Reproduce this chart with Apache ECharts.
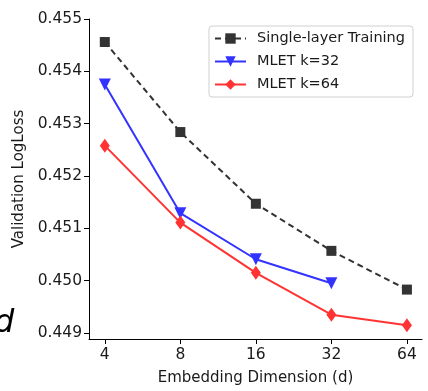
<!DOCTYPE html>
<html>
<head>
<meta charset="utf-8">
<script src="https://cdn.jsdelivr.net/npm/echarts@6/dist/echarts.min.js"></script>
<style>
  html, body { margin: 0; padding: 0; background: #fff; }
  #chart { width: 428px; height: 391px; }
</style>
</head>
<body>
<div id="chart"></div>
<script>
// embedding dimensions (x) and validation logloss per method
var dims = [4, 8, 16, 32, 64];
var singleLayer = [0.45456, 0.45284, 0.45147, 0.45057, 0.44983];
var mletK32 = [0.45375, 0.45129, 0.45041, 0.44995];
var mletK64 = [0.45258, 0.45111, 0.45015, 0.44935, 0.44915];
var yTicks = [0.449, 0.450, 0.451, 0.452, 0.453, 0.454, 0.455];

var font = 'DejaVu Sans';

function pairs(xs, ys) {
  return ys.map(function (y, i) { return [xs[i], y]; });
}

var option = {
  animation: false,
  textStyle: { fontFamily: font },
  grid: { left: 89, right: 6, top: 19, bottom: 49 },
  legend: {
    right: 15, top: 26,
    orient: 'vertical',
    itemWidth: 31, itemHeight: 13, itemGap: 8,
    padding: [5, 8, 5, 5],
    borderColor: '#d0d0d0', borderWidth: 1, borderRadius: 3,
    backgroundColor: '#fff',
    textStyle: { fontFamily: font, fontSize: 14.5, color: '#1a1a1a', padding: [0, 0, 0, 6] },
    data: ['Single-layer Training', 'MLET k=32', 'MLET k=64']
  },
  xAxis: {
    type: 'log', logBase: 2,
    min: 3.46, max: 73.5,
    name: 'Embedding Dimension (d)',
    nameLocation: 'middle', nameGap: 32,
    nameTextStyle: { fontFamily: font, fontSize: 15, color: '#1a1a1a' },
    axisLine: { lineStyle: { color: '#000', width: 1 } },
    axisTick: { length: 5, lineStyle: { color: '#000' }, customValues: dims },
    axisLabel: { fontFamily: font, fontSize: 15.5, color: '#1a1a1a', margin: 8, customValues: dims },
    splitLine: { show: false },
    minorTick: { show: false }
  },
  yAxis: {
    type: 'value',
    min: 0.448886, max: 0.455,
    name: 'Validation LogLoss',
    nameLocation: 'middle', nameGap: 59,
    nameTextStyle: { fontFamily: font, fontSize: 15, color: '#1a1a1a' },
    axisLine: { show: true, lineStyle: { color: '#000', width: 1 } },
    axisTick: { show: true, length: 5, lineStyle: { color: '#000' }, customValues: yTicks },
    axisLabel: {
      fontFamily: font, fontSize: 15.5, color: '#1a1a1a', margin: 7,
      customValues: yTicks,
      formatter: function (v) { return v.toFixed(3); }
    },
    splitLine: { show: false }
  },
  graphic: [{
    type: 'text', left: -6, top: 308,
    style: { text: 'd', font: 'italic 32px "DejaVu Sans"', fill: '#000' }
  }],
  series: [
    {
      name: 'Single-layer Training', type: 'line',
      data: pairs(dims, singleLayer),
      symbol: 'rect', symbolSize: 10,
      itemStyle: { color: '#333333' },
      lineStyle: { color: '#333333', width: 2, type: [6, 4] },
      z: 3
    },
    {
      name: 'MLET k=32', type: 'line',
      data: pairs(dims, mletK32),
      symbol: 'triangle', symbolSize: 12, symbolRotate: 180,
      itemStyle: { color: '#3333ff' },
      lineStyle: { color: '#3333ff', width: 2 },
      z: 2
    },
    {
      name: 'MLET k=64', type: 'line',
      data: pairs(dims, mletK64),
      symbol: 'diamond', symbolSize: [10, 14],
      itemStyle: { color: '#ff3333' },
      lineStyle: { color: '#ff3333', width: 2 },
      z: 2
    }
  ]
};

var chart = echarts.init(document.getElementById('chart'));
chart.setOption(option);
</script>
</body>
</html>
